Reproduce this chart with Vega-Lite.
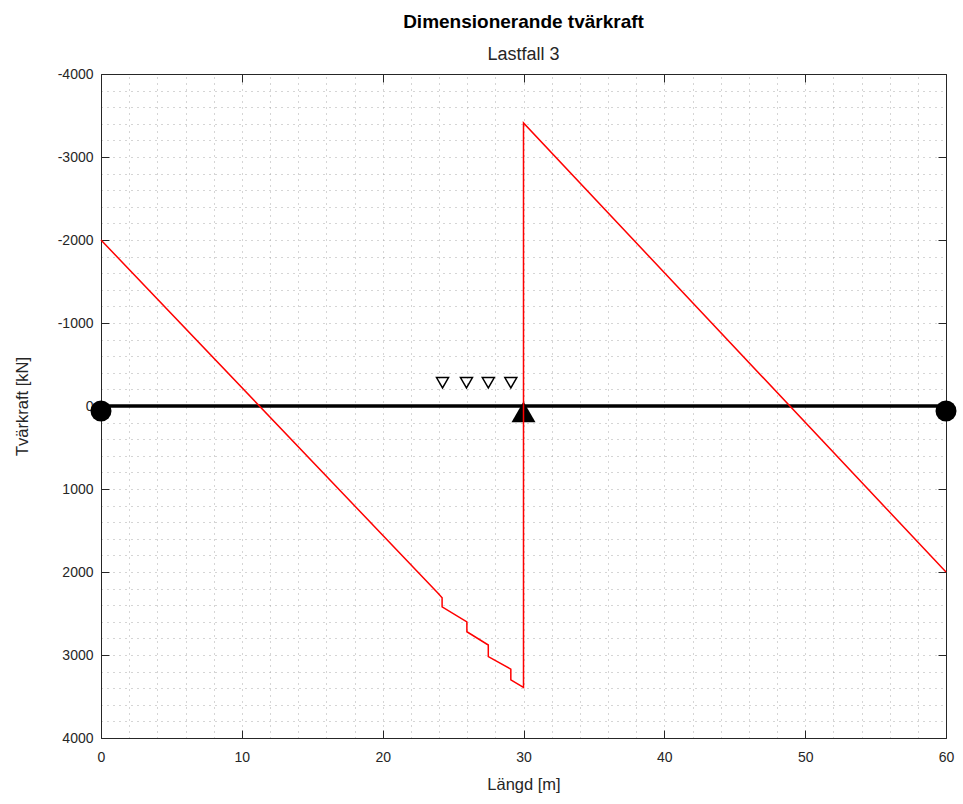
{
  "$schema": "https://vega.github.io/schema/vega-lite/v6.json",
  "width": 845,
  "height": 664,
  "autosize": "none",
  "padding": {"left": 101, "top": 74, "right": 17, "bottom": 66},
  "background": "white",
  "config": {
    "font": "Liberation Sans",
    "view": {"stroke": null},
    "axis": {"labelFont": "Liberation Sans", "titleFont": "Liberation Sans", "labelColor": "#262626", "titleColor": "#262626", "domainColor": "#262626", "tickColor": "#262626", "titleFontWeight": "normal", "labelFlush": false}
  },
  "title": {
    "text": "Dimensionerande tvärkraft",
    "subtitle": "Lastfall 3",
    "anchor": "middle",
    "font": "Liberation Sans",
    "fontSize": 19,
    "fontWeight": "bold",
    "color": "#000000",
    "subtitleFont": "Liberation Sans",
    "subtitleFontSize": 18,
    "subtitleColor": "#262626",
    "subtitlePadding": 14,
    "offset": 3
  },
  "datasets": {
    "shear": [
      {"x": 0, "v": -2000},
      {"x": 23.9, "v": 2250},
      {"x": 24.22, "v": 2310},
      {"x": 24.22, "v": 2420},
      {"x": 25.98, "v": 2600},
      {"x": 25.98, "v": 2720},
      {"x": 27.5, "v": 2880},
      {"x": 27.5, "v": 3020},
      {"x": 29.1, "v": 3170},
      {"x": 29.1, "v": 3300},
      {"x": 30, "v": 3390},
      {"x": 30, "v": -3410},
      {"x": 60, "v": 2000}
    ],
    "beam": [{"x": 0, "v": 0}, {"x": 60, "v": 0}],
    "pins": [{"x": 0, "v": 60}, {"x": 60, "v": 60}],
    "support": [{"x": 30, "v": 72}],
    "loads": [{"x": 24.25, "v": -280}, {"x": 25.95, "v": -280}, {"x": 27.5, "v": -280}, {"x": 29.1, "v": -280}]
  },
  "resolve": {"scale": {"x": "shared", "y": "shared"}, "axis": {"x": "independent", "y": "independent"}},
  "layer": [
    {
      "data": {"name": "beam"},
      "mark": {"type": "line", "color": "#000000", "strokeWidth": 3.5},
      "encoding": {
        "x": {"field": "x", "type": "quantitative", "scale": {"domain": [0, 60], "nice": false, "zero": false},
          "axis": {"orient": "bottom", "values": [0,2,4,6,8,10,12,14,16,18,20,22,24,26,28,30,32,34,36,38,40,42,44,46,48,50,52,54,56,58,60], "grid": true, "gridDash": [1, 5], "gridColor": "#aaaaaa", "gridWidth": 1, "labels": false, "ticks": false, "domain": false, "title": null}},
        "y": {"field": "v", "type": "quantitative", "scale": {"domain": [-4000, 4000], "reverse": true, "nice": false, "zero": false},
          "axis": {"orient": "left", "values": [-4000,-3800,-3600,-3400,-3200,-3000,-2800,-2600,-2400,-2200,-2000,-1800,-1600,-1400,-1200,-1000,-800,-600,-400,-200,0,200,400,600,800,1000,1200,1400,1600,1800,2000,2200,2400,2600,2800,3000,3200,3400,3600,3800,4000], "grid": true, "gridDash": [1, 5], "gridColor": "#aaaaaa", "gridWidth": 1, "labels": false, "ticks": false, "domain": false, "title": null}}
      }
    },
    {
      "data": {"name": "support"},
      "mark": {"type": "point", "shape": "triangle-up", "filled": true, "color": "#000000", "size": 576, "opacity": 1},
      "encoding": {
        "x": {"field": "x", "type": "quantitative",
          "axis": {"orient": "bottom", "offset": -8, "values": [0,10,20,30,40,50,60], "grid": false, "labels": false, "ticks": true, "tickSize": 8, "domain": false, "title": null}},
        "y": {"field": "v", "type": "quantitative",
          "axis": {"orient": "left", "offset": -8, "values": [-4000,-3000,-2000,-1000,0,1000,2000,3000,4000], "grid": false, "labels": false, "ticks": true, "tickSize": 8, "domain": false, "title": null}}
      }
    },
    {
      "data": {"name": "shear"},
      "mark": {"type": "line", "color": "#ff0000", "strokeWidth": 1.5},
      "encoding": {
        "x": {"field": "x", "type": "quantitative",
          "axis": {"orient": "bottom", "values": [0,10,20,30,40,50,60], "grid": false, "labels": true, "labelFontSize": 14, "labelPadding": 12, "ticks": false, "domain": true, "title": "Längd [m]", "titleFontSize": 16.5, "titlePadding": 12}},
        "y": {"field": "v", "type": "quantitative",
          "axis": {"orient": "left", "values": [-4000,-3000,-2000,-1000,0,1000,2000,3000,4000], "labelExpr": "'' + datum.value", "grid": false, "labels": true, "labelFontSize": 14, "labelPadding": 8, "ticks": false, "domain": true, "title": "Tvärkraft [kN]", "titleFontSize": 16.5, "titlePadding": 27}},
        "order": {"field": "x", "type": "quantitative"}
      }
    },
    {
      "data": {"name": "pins"},
      "mark": {"type": "point", "shape": "circle", "filled": true, "color": "#000000", "size": 441, "opacity": 1},
      "encoding": {
        "x": {"field": "x", "type": "quantitative",
          "axis": {"orient": "top", "values": [0,10,20,30,40,50,60], "grid": false, "labels": false, "ticks": false, "domain": true, "title": null}},
        "y": {"field": "v", "type": "quantitative",
          "axis": {"orient": "right", "values": [-4000,-3000,-2000,-1000,0,1000,2000,3000,4000], "grid": false, "labels": false, "ticks": false, "domain": true, "title": null}}
      }
    },
    {
      "data": {"name": "loads"},
      "mark": {"type": "point", "shape": "triangle-down", "filled": false, "color": "#000000", "strokeWidth": 1.5, "size": 144, "opacity": 1},
      "encoding": {
        "x": {"field": "x", "type": "quantitative",
          "axis": {"orient": "top", "offset": -8, "values": [0,10,20,30,40,50,60], "grid": false, "labels": false, "ticks": true, "tickSize": 8, "domain": false, "title": null}},
        "y": {"field": "v", "type": "quantitative",
          "axis": {"orient": "right", "offset": -8, "values": [-4000,-3000,-2000,-1000,0,1000,2000,3000,4000], "grid": false, "labels": false, "ticks": true, "tickSize": 8, "domain": false, "title": null}}
      }
    }
  ]
}
